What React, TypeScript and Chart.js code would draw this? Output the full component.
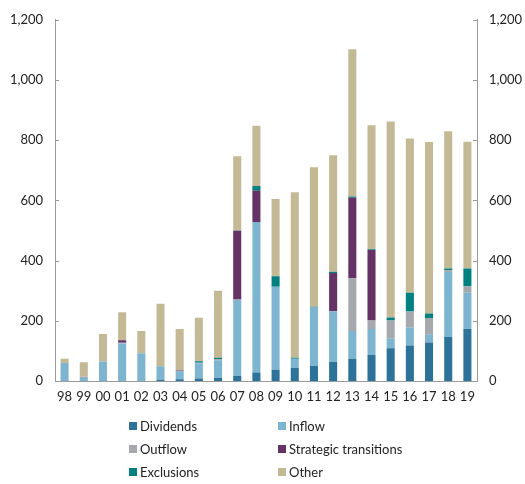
import React, { useEffect, useRef } from "react";
import { Chart, registerables } from "chart.js";

Chart.register(...registerables);

const years = ["98", "99", "00", "01", "02", "03", "04", "05", "06", "07", "08", "09", "10", "11", "12", "13", "14", "15", "16", "17", "18", "19"];

const dividends = [0, 0, 0, 0, 0, 4, 6, 8, 11, 17, 28, 37, 43, 50, 63, 73, 86, 109, 118, 128, 146, 173];
const inflow = [60, 10, 65, 125, 92, 45, 26, 51, 58, 252, 500, 276, 31, 196, 169, 93, 87, 31, 60, 27, 216, 120];
const outflow = [0, 5, 0, 2, 0, 0, 0, 2, 4, 2, 0, 0, 0, 0, 0, 175, 28, 61, 53, 54, 6, 22];
const strategic = [0, 0, 0, 8, 0, 0, 3, 0, 0, 228, 104, 0, 0, 0, 127, 268, 234, 0, 0, 0, 0, 0];
const exclusions = [0, 0, 0, 0, 0, 0, 0, 5, 4, 1, 16, 35, 3, 1, 4, 4, 3, 10, 62, 15, 6, 59];
const other = [14, 47, 91, 93, 74, 208, 138, 144, 223, 247, 200, 257, 550, 463, 387, 489, 412, 651, 513, 570, 456, 421];

const yTicks = [0, 200, 400, 600, 800, 1000, 1200];

const seriesNames = ["Dividends", "Inflow", "Outflow", "Strategic transitions", "Exclusions", "Other"];
const seriesColors = ["#2d7399", "#7db5d1", "#a5a9ae", "#653266", "#00807f", "#c4b995"];
const seriesData = [dividends, inflow, outflow, strategic, exclusions, other];

const FONT = "Lato, 'Open Sans', sans-serif";

const inwardTicks = {
  id: "inwardTicks",
  afterDraw(chart: any) {
    const ctx = chart.ctx;
    const yl = chart.scales.y;
    const yr = chart.scales.y1;
    ctx.save();
    ctx.strokeStyle = "#9a9a9a";
    ctx.lineWidth = 1;
    for (const v of yTicks) {
      const py = Math.round(yl.getPixelForValue(v)) + 0.5;
      ctx.beginPath();
      ctx.moveTo(yl.right, py);
      ctx.lineTo(yl.right + 4, py);
      ctx.stroke();
      ctx.beginPath();
      ctx.moveTo(yr.left, py);
      ctx.lineTo(yr.left - 4, py);
      ctx.stroke();
    }
    ctx.restore();
  },
};

export default function App() {
  const ref = useRef<HTMLCanvasElement | null>(null);

  useEffect(() => {
    if (!ref.current) return;
    const chart = new Chart(ref.current, {
      type: "bar",
      data: {
        labels: years,
        datasets: seriesNames.map((name, i) => ({
          label: name,
          data: seriesData[i],
          backgroundColor: seriesColors[i],
          borderWidth: 0,
          barPercentage: 0.42,
          categoryPercentage: 1,
          yAxisID: "y",
        })),
      },
      options: {
        animation: false,
        responsive: false,
        maintainAspectRatio: false,
        layout: { padding: { top: 19, bottom: 73, left: 0, right: 0 } },
        plugins: {
          legend: { display: false },
          tooltip: { enabled: false },
        },
        scales: {
          x: {
            stacked: true,
            grid: { display: false, drawTicks: false },
            border: { display: true, color: "#9a9a9a", width: 1 },
            ticks: { color: "#222", font: { family: FONT, size: 13 }, padding: 8, maxRotation: 0, autoSkip: false },
            afterFit: (s: any) => { s.height = 30; },
          },
          y: {
            stacked: true,
            position: "left",
            min: 0,
            max: 1200,
            grid: { display: false, drawTicks: false },
            border: { display: true, color: "#9a9a9a", width: 1 },
            ticks: {
              stepSize: 200,
              color: "#222",
              padding: 12,
              font: { family: FONT, size: 13 },
              callback: (v: any) => Number(v).toLocaleString("en-US"),
            },
            afterFit: (s: any) => { s.width = 55; },
          },
          y1: {
            position: "right",
            min: 0,
            max: 1200,
            grid: { display: false, drawTicks: false },
            border: { display: true, color: "#9a9a9a", width: 1 },
            ticks: {
              stepSize: 200,
              color: "#222",
              padding: 12,
              font: { family: FONT, size: 13 },
              callback: (v: any) => Number(v).toLocaleString("en-US"),
            },
            afterFit: (s: any) => { s.width = 48; },
          },
        },
      },
      plugins: [inwardTicks],
    });
    return () => chart.destroy();
  }, []);

  const legendPos = [
    { x: 129, y: 426 },
    { x: 278, y: 426 },
    { x: 129, y: 449 },
    { x: 278, y: 449 },
    { x: 129, y: 472 },
    { x: 278, y: 472 },
  ];

  return (
    <div style={{ position: "fixed", left: 0, top: 0, width: 525, height: 484, background: "#fff" }}>
      <canvas ref={ref} width={525} height={484} style={{ width: 525, height: 484, display: "block" }} />
      {seriesNames.map((name, i) => (
        <div
          key={name}
          style={{
            position: "absolute",
            left: legendPos[i].x,
            top: legendPos[i].y - 9,
            height: 18,
            display: "flex",
            alignItems: "center",
            fontFamily: FONT,
            fontSize: 13,
            color: "#222",
            whiteSpace: "nowrap",
          }}
        >
          <span style={{ display: "inline-block", width: 8, height: 8, background: seriesColors[i], marginRight: 3 }} />
          <span>{name}</span>
        </div>
      ))}
    </div>
  );
}
